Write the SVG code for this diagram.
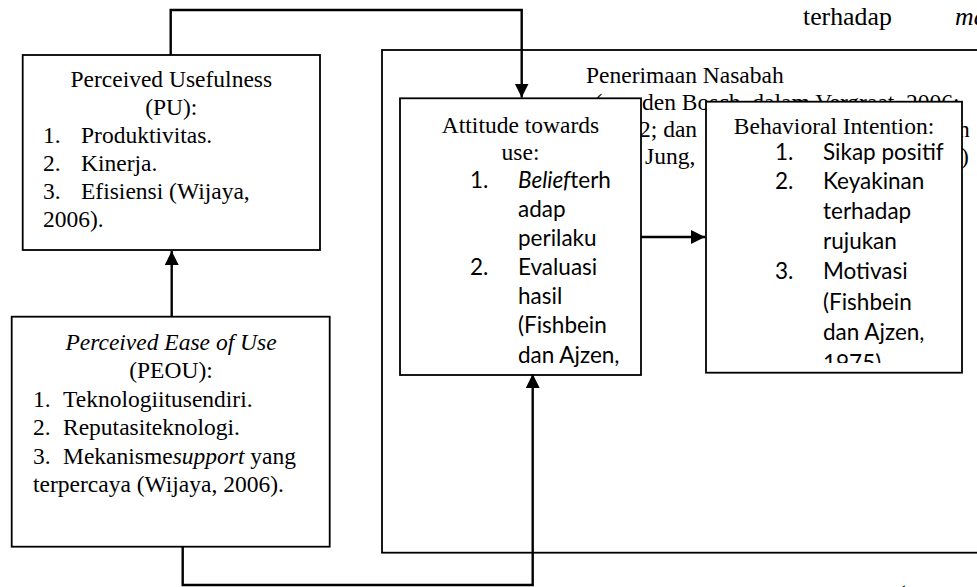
<svg xmlns="http://www.w3.org/2000/svg" width="977" height="587" viewBox="0 0 977 587">
<style>
.box{fill:#fff;stroke:#000;stroke-width:1.8}
.serif{font-family:"Liberation Serif","Times New Roman",serif;font-size:23.5px;fill:#000}
.sans{font-family:Lato,"Liberation Sans",sans-serif;font-size:22.5px;fill:#000}
.conn{fill:none;stroke:#000;stroke-width:2.4}
.it{font-style:italic}
</style>
<defs>
<marker id="arr" markerUnits="userSpaceOnUse" markerWidth="16" markerHeight="16" refX="14" refY="7" orient="auto">
<polygon points="0,0 14,7 0,14" fill="#000"/>
</marker>
<clipPath id="clipAtt"><rect x="400" y="98" width="241" height="269"/></clipPath>
<clipPath id="clipBeh"><rect x="706" y="102" width="256" height="261"/></clipPath>
</defs>

<text class="serif" x="803" y="25" style="font-size:25.8px">terhadap</text>
<text class="serif it" x="955" y="25" style="font-size:25.8px">ma</text>
<text class="serif" x="897" y="603" style="font-size:25.8px">(</text>

<g id="penerimaan">
<rect class="box" x="382" y="50" width="640" height="502.7"/>
<text class="serif" x="586" y="83">Penerimaan Nasabah</text>
<text class="serif" x="594.5" y="110">(</text>
<text class="serif" x="642" y="110">den Bosch, dalam Vergraat, 2006;</text>
<text class="serif" x="639" y="137">2; dan</text>
<text class="serif" x="958" y="137">n</text>
<text class="serif" x="645" y="164">Jung,</text>
<text class="serif" x="961" y="164">)</text>
</g>

<g id="pu">
<rect class="box" x="22.7" y="55" width="297.3" height="195"/>
<text class="serif" x="171.3" y="87" text-anchor="middle">Perceived Usefulness</text>
<text class="serif" x="171.3" y="115" text-anchor="middle">(PU):</text>
<text class="serif" x="43" y="143">1.</text><text class="serif" x="81" y="143">Produktivitas.</text>
<text class="serif" x="43" y="171">2.</text><text class="serif" x="81" y="171">Kinerja.</text>
<text class="serif" x="43" y="198.5">3.</text><text class="serif" x="81" y="198.5">Efisiensi (Wijaya,</text>
<text class="serif" x="43" y="226.5">2006).</text>
</g>

<g id="peou">
<rect class="box" x="11.7" y="316.7" width="318" height="230"/>
<text class="serif it" x="171" y="350" text-anchor="middle">Perceived Ease of Use</text>
<text class="serif" x="171" y="377.5" text-anchor="middle">(PEOU):</text>
<text class="serif" x="33" y="406.5">1.</text><text class="serif" x="63" y="406.5">Teknologiitusendiri.</text>
<text class="serif" x="33" y="435">2.</text><text class="serif" x="63" y="435">Reputasiteknologi.</text>
<text class="serif" x="33" y="463.5">3.</text><text class="serif" x="63" y="463.5">Mekanisme<tspan class="it">support</tspan> yang</text>
<text class="serif" x="33" y="492">terpercaya (Wijaya, 2006).</text>
</g>

<g id="attitude">
<rect class="box" x="400" y="98.3" width="241" height="276.7"/>
<g clip-path="url(#clipAtt)">
<text class="serif" x="520.5" y="133" text-anchor="middle">Attitude towards</text>
<text class="serif" x="520.5" y="160" text-anchor="middle">use:</text>
<text class="sans" x="470" y="188">1.</text><text class="sans" x="518" y="188"><tspan class="it">Belief</tspan>terh</text>
<text class="sans" x="518" y="217">adap</text>
<text class="sans" x="518" y="245.5">perilaku</text>
<text class="sans" x="470" y="274.5">2.</text><text class="sans" x="518" y="274.5">Evaluasi</text>
<text class="sans" x="518" y="303.5">hasil</text>
<text class="sans" x="518" y="333">(Fishbein</text>
<text class="sans" x="518" y="362.5">dan Ajzen,</text>
</g>
</g>

<g id="behavioral">
<rect class="box" x="706" y="101.7" width="256" height="271"/>
<g clip-path="url(#clipBeh)">
<text class="serif" x="834" y="134" text-anchor="middle">Behavioral Intention:</text>
<text class="sans" x="775" y="160">1.</text><text class="sans" x="823" y="160">Sikap positif</text>
<text class="sans" x="775" y="189">2.</text><text class="sans" x="823" y="189">Keyakinan</text>
<text class="sans" x="823" y="218.5">terhadap</text>
<text class="sans" x="823" y="248.5">rujukan</text>
<text class="sans" x="775" y="279">3.</text><text class="sans" x="823" y="279">Motivasi</text>
<text class="sans" x="823" y="309.5">(Fishbein</text>
<text class="sans" x="823" y="340">dan Ajzen,</text>
<text class="sans" x="823" y="370.5">1975)</text>
</g>
</g>

<g id="connectors">
<path class="conn" d="M170.7,55 V10 H521.7 V97.5" marker-end="url(#arr)"/>
<path class="conn" d="M171.7,316.7 V251" marker-end="url(#arr)"/>
<path class="conn" d="M182.7,546.7 V585 H532.7 V374" marker-end="url(#arr)"/>
<path class="conn" d="M641,237 H705" marker-end="url(#arr)"/>
</g>
</svg>
